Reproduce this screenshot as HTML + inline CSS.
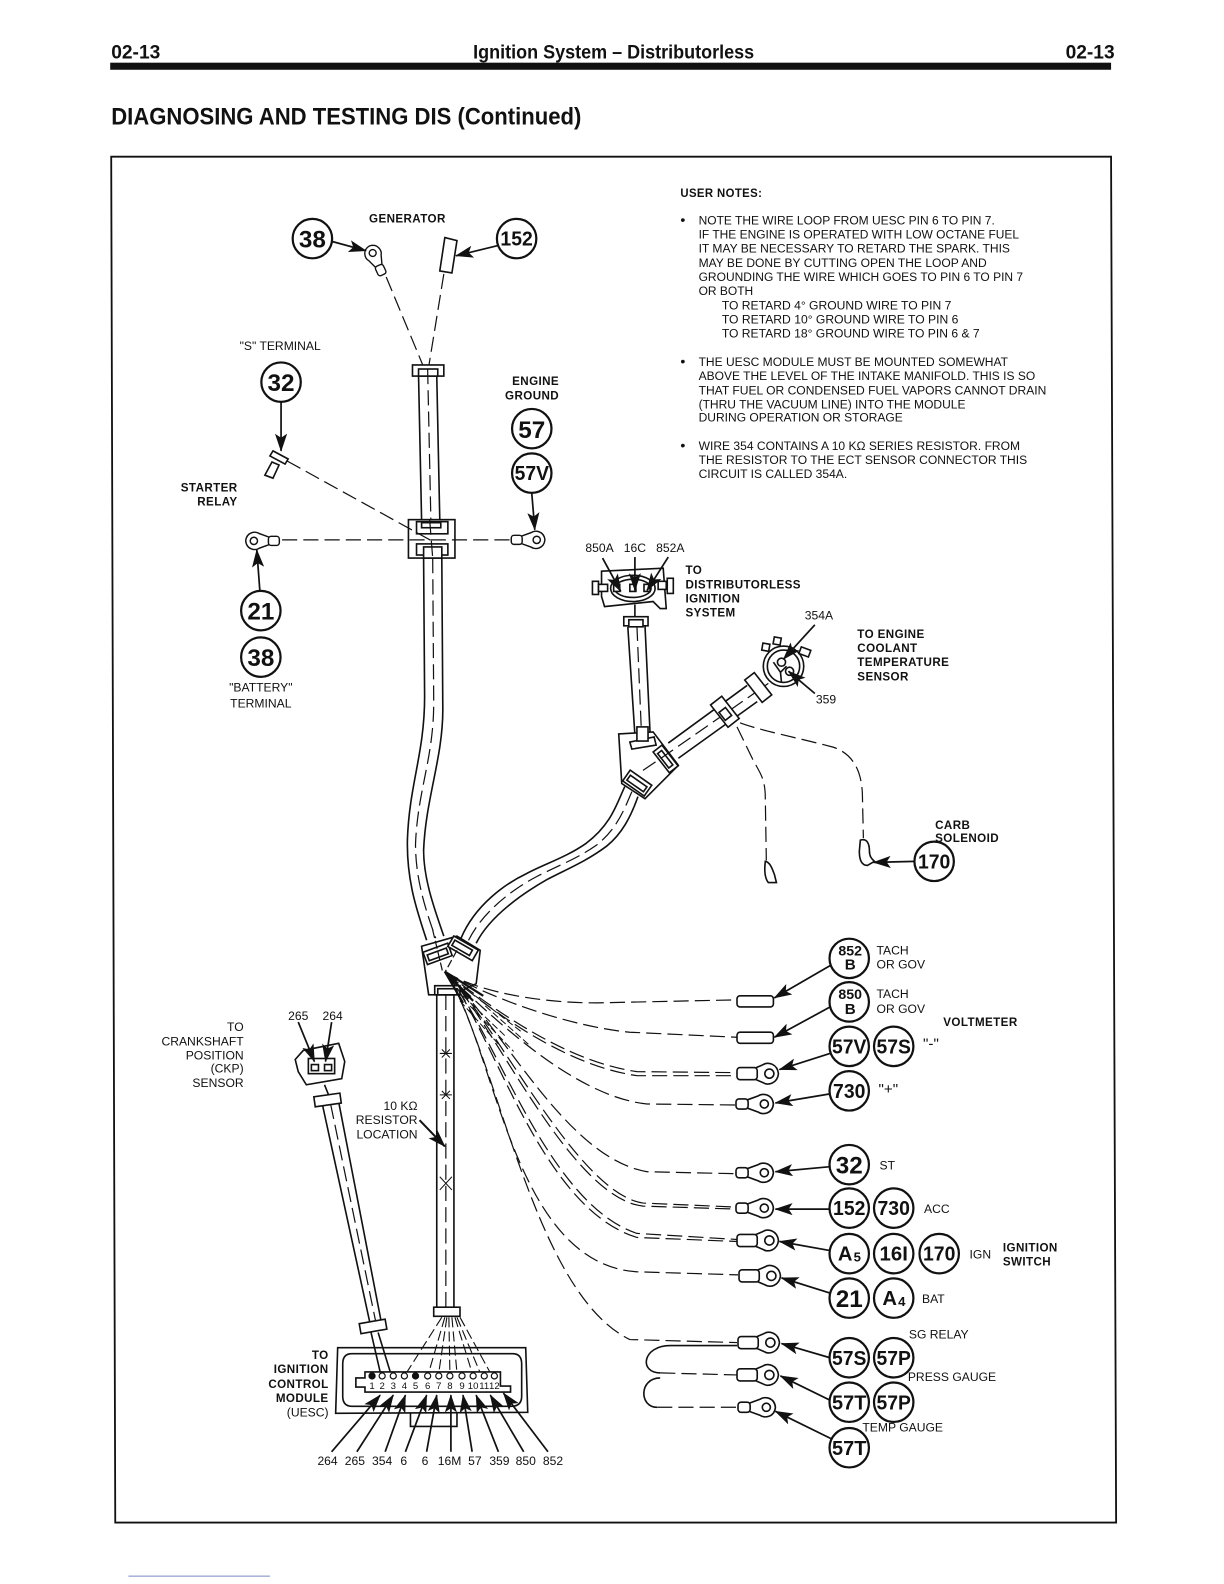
<!DOCTYPE html>
<html><head><meta charset="utf-8"><style>
html,body{margin:0;padding:0;background:#fff;width:1224px;height:1584px;overflow:hidden}
svg{display:block}
text{font-family:"Liberation Sans",sans-serif;fill:#111}
.n{font-size:12px}
.l{font-size:12px}
.b{font-size:11.5px;font-weight:bold;letter-spacing:.4px}
.c{font-size:24px;font-weight:bold;text-anchor:middle}
.c2{font-size:20px;font-weight:bold;text-anchor:middle}
.h{stroke:#111;fill:none;stroke-width:1.6}
.d{stroke:#111;fill:none;stroke-width:1.2;stroke-dasharray:15 6}
.o{stroke:#111;fill:#fff;stroke-width:1.6}
.ar{stroke:#111;fill:none;stroke-width:1.7;marker-end:url(#a)}
.ci{stroke:#111;fill:#fff;stroke-width:2.2}
.p{font-size:9.5px;text-anchor:middle}
</style></head><body>
<svg width="1224" height="1584" viewBox="0 0 1210.7 1566.8" xmlns="http://www.w3.org/2000/svg">
<defs>
<marker id="a" viewBox="0 0 18 12" refX="17" refY="6" markerWidth="18" markerHeight="12" markerUnits="userSpaceOnUse" orient="auto"><path d="M0,0 L18,6 L0,12 L4,6 Z" fill="#111"/></marker>
<g id="lug"><path d="M-16,-4 L-5,-8 C-1,-11 9,-10 10,0 C9,10 -1,11 -5,8 L-16,4 Z" class="o"/><circle cx="1" cy="0" r="4" class="o"/><rect x="-27" y="-5" width="12" height="10" rx="3" class="o"/></g>
<g id="lug2"><path d="M-12,-6 L-5,-9 C-1,-12 9,-10 10,0 C9,10 -1,12 -5,9 L-12,6 Z" class="o"/><circle cx="1" cy="0" r="4.5" class="o"/><rect x="-31" y="-6" width="20" height="12" rx="3" class="o"/></g>
</defs>

<!-- header -->
<text x="110" y="58" style="font-size:19px;font-weight:bold">02-13</text>
<text x="468" y="58" style="font-size:19px;font-weight:bold" textLength="278" lengthAdjust="spacingAndGlyphs">Ignition System – Distributorless</text>
<text x="1054" y="58" style="font-size:19px;font-weight:bold">02-13</text>
<rect x="109" y="62" width="990" height="7" fill="#111"/>
<text x="110" y="123" style="font-size:24px;font-weight:bold" textLength="465" lengthAdjust="spacingAndGlyphs">DIAGNOSING AND TESTING DIS (Continued)</text>
<path d="M110,155 L1099,155 L1104,1506 L114,1506 Z" fill="none" stroke="#111" stroke-width="1.8"/>
<line x1="127" y1="1559" x2="267" y2="1559" stroke="#7a86c8" stroke-width="1"/>

<!-- user notes -->
<text x="673" y="195" class="b" textLength="81" lengthAdjust="spacingAndGlyphs">USER NOTES:</text>
<text x="673" y="222" style="font-size:14px">•</text>
<text x="691" y="222" class="n" textLength="293" lengthAdjust="spacingAndGlyphs">NOTE THE WIRE LOOP FROM UESC PIN 6 TO PIN 7.</text>
<text x="691" y="236" class="n" textLength="317" lengthAdjust="spacingAndGlyphs">IF THE ENGINE IS OPERATED WITH LOW OCTANE FUEL</text>
<text x="691" y="250" class="n" textLength="308" lengthAdjust="spacingAndGlyphs">IT MAY BE NECESSARY TO RETARD THE SPARK. THIS</text>
<text x="691" y="264" class="n" textLength="285" lengthAdjust="spacingAndGlyphs">MAY BE DONE BY CUTTING OPEN THE LOOP AND</text>
<text x="691" y="278" class="n" textLength="321" lengthAdjust="spacingAndGlyphs">GROUNDING THE WIRE WHICH GOES TO PIN 6 TO PIN 7</text>
<text x="691" y="292" class="n" textLength="54" lengthAdjust="spacingAndGlyphs">OR BOTH</text>
<text x="714" y="306" class="n" textLength="227" lengthAdjust="spacingAndGlyphs">TO RETARD 4° GROUND WIRE TO PIN 7</text>
<text x="714" y="320" class="n" textLength="234" lengthAdjust="spacingAndGlyphs">TO RETARD 10° GROUND WIRE TO PIN 6</text>
<text x="714" y="334" class="n" textLength="255" lengthAdjust="spacingAndGlyphs">TO RETARD 18° GROUND WIRE TO PIN 6 &amp; 7</text>
<text x="673" y="362" style="font-size:14px">•</text>
<text x="691" y="362" class="n" textLength="306" lengthAdjust="spacingAndGlyphs">THE UESC MODULE MUST BE MOUNTED SOMEWHAT</text>
<text x="691" y="376" class="n" textLength="333" lengthAdjust="spacingAndGlyphs">ABOVE THE LEVEL OF THE INTAKE MANIFOLD. THIS IS SO</text>
<text x="691" y="390" class="n" textLength="344" lengthAdjust="spacingAndGlyphs">THAT FUEL OR CONDENSED FUEL VAPORS CANNOT DRAIN</text>
<text x="691" y="404" class="n" textLength="264" lengthAdjust="spacingAndGlyphs">(THRU THE VACUUM LINE) INTO THE MODULE</text>
<text x="691" y="417" class="n" textLength="202" lengthAdjust="spacingAndGlyphs">DURING OPERATION OR STORAGE</text>
<text x="673" y="445" style="font-size:14px">•</text>
<text x="691" y="445" class="n" textLength="318" lengthAdjust="spacingAndGlyphs">WIRE 354 CONTAINS A 10 KΩ SERIES RESISTOR. FROM</text>
<text x="691" y="459" class="n" textLength="325" lengthAdjust="spacingAndGlyphs">THE RESISTOR TO THE ECT SENSOR CONNECTOR THIS</text>
<text x="691" y="473" class="n" textLength="147" lengthAdjust="spacingAndGlyphs">CIRCUIT IS CALLED 354A.</text>

<!-- top wires -->
<path class="d" d="M382,274 L419,363"/>
<path class="d" d="M439,271 L424,363"/>
<use href="#lug" transform="translate(369,251) rotate(-115) scale(.85)"/>
<path class="o" d="M440,235 L452,238 L447,270 L435,268 Z"/>
<path class="ar" d="M329,239 L362,248"/>
<path class="ar" d="M492,243 L451,253"/>

<!-- main harness -->
<path class="h" d="M414,372 L417,514 M432,371 L435,514"/>
<rect x="408" y="361" width="31" height="11" class="o"/>
<rect x="414" y="365" width="19" height="7" class="o"/>
<path class="d" d="M423,365 L427,552"/>
<path class="h" d="M419,552 L420,689 C420,745 405,775 403,830 C402,870 412,900 422,930"/>
<path class="h" d="M437,552 L438,702 C438,750 421,790 419,841 C419,870 430,900 439,926"/>
<path class="d" d="M428,552 L429,695 C429,750 413,782 411,835 C411,870 421,900 431,928"/>

<!-- middle clamp -->
<rect x="404" y="514" width="46" height="38" class="o" stroke-width="2"/>
<rect x="412" y="516" width="31" height="12" class="o"/>
<rect x="417" y="517" width="19" height="5" class="o"/>
<rect x="412" y="538" width="31" height="11" class="o"/>
<rect x="419" y="541" width="18" height="11" class="o"/>
<path class="d" d="M425,514 L428,552"/>
<path class="d" d="M279,534 L509,534" stroke-width="1"/>
<path class="d" d="M284,456 L427,535"/>
<use href="#lug" transform="translate(252,535) rotate(180) scale(.9)"/>
<use href="#lug" transform="translate(530,534) scale(.9)"/>
<path class="ar" d="M278,398 L278,446"/>
<path class="o" d="M270,446 L285,454 L282,459 L267,451 Z"/>
<path class="o" d="M269,457 L276,460 L270,473 L262,470 Z" stroke-width="1"/>
<path class="ar" d="M526,488 L529,524"/>
<path class="ar" d="M257,584 L254,544"/>

<!-- lower main trunk -->
<path class="h" d="M432,984 L432,1293 M449,984 L449,1293"/>
<path class="d" d="M441,984 L441,1293"/>
<path d="M435,1042 L447,1042 M437,1038 L445,1046 M445,1038 L437,1046 M435,1083 L447,1083 M437,1079 L445,1087 M445,1079 L437,1087 M435,1164 L447,1177 M447,1164 L435,1177" stroke="#111" stroke-width="1" fill="none"/>

<!-- bottom junction -->
<path class="o" d="M417,936 L452,926 L475,940 L471,973 L448,984 L424,984 Z"/>
<rect x="430" y="975" width="25" height="9" class="o"/>
<rect x="433" y="978" width="19" height="6" class="o"/>
<path class="h" d="M618,778 C610,795 605,815 580,834 C560,848 540,854 521,864 C500,874 470,895 456,928"/>
<path class="h" d="M631,788 C624,808 615,825 600,837 C580,852 560,860 541,870 C520,882 485,905 471,933"/>
<path class="d" d="M625,783 C617,802 610,820 590,836 C570,850 550,857 531,867 C510,878 478,900 463,931"/>
<g transform="translate(433,944) rotate(-20)"><rect x="-13" y="-7" width="26" height="13" class="o"/><rect x="-10" y="-3" width="20" height="6" class="o"/></g>
<g transform="translate(458,938) rotate(30)"><rect x="-14" y="-6" width="28" height="12" class="o"/><rect x="-11" y="-3" width="20" height="6" class="o"/></g>
<path class="d" d="M428,920 L438,962 M452,940 L440,962" style="stroke-dasharray:8 3"/>

<!-- upper right junction -->
<path class="h" d="M621,620 L628,727 M638,619 L643,725"/>
<path class="d" d="M630,619 L636,761"/>
<rect x="617" y="610" width="24" height="9" class="o"/>
<rect x="622" y="613" width="14" height="7" class="o"/>
<path class="o" d="M612,726 L646,724 L671,757 L638,790 L615,775 Z"/>
<path class="o" d="M623,734 L647,729 L649,737 L625,741 Z"/>
<rect x="630" y="719" width="11" height="14" class="o" stroke-width="1.2"/>
<g transform="translate(630,775) rotate(35)"><rect x="-13" y="-7" width="26" height="13" class="o"/><rect x="-10" y="-3" width="20" height="6" class="o"/></g>
<g transform="translate(658,751) rotate(52)"><rect x="-13" y="-6" width="26" height="11" class="o"/><rect x="-9" y="-2.5" width="18" height="5" class="o"/></g>
<path class="h" d="M661,735 L739,678 M671,750 L749,694"/>
<path class="d" d="M636,762 L664,743 L760,676"/>
<g transform="translate(717,704) rotate(52)"><rect x="-14" y="-7" width="28" height="14" class="o"/><rect x="-3" y="-3" width="10" height="8" class="o" stroke-width="1"/></g>
<g transform="translate(750,680) rotate(52)"><rect x="-14" y="-6" width="28" height="12" class="o"/></g>

<!-- DIS connector -->
<path class="h" d="M595,565 L656,562 L659,602 L653,602 L646,595 L598,600 L595,590 Z" stroke-width="1.4"/>
<ellipse cx="626" cy="582" rx="22" ry="13" class="h"/>
<ellipse cx="626" cy="582" rx="18" ry="9" class="h" stroke-width="1"/>
<rect x="607" y="578" width="6" height="7" class="o" stroke-width="1"/><rect x="623" y="578" width="6" height="7" class="o" stroke-width="1"/><rect x="637" y="578" width="6" height="7" class="o" stroke-width="1"/>
<rect x="586" y="575" width="6" height="13" class="o"/><rect x="592" y="578" width="9" height="7" class="o"/>
<rect x="651" y="575" width="8" height="8" class="o"/><rect x="660" y="572" width="6" height="15" class="o"/>
<line x1="628" y1="598" x2="628" y2="610" class="h"/>
<path class="ar" d="M596,552 L614,585"/>
<path class="ar" d="M628,551 L628,584"/>
<path class="ar" d="M661,551 L640,584"/>

<!-- ECT sensor -->
<g transform="translate(775,659)">
<circle r="20" class="h"/><circle r="16" class="h" stroke-width="1"/>
<circle cx="-2" cy="-4" r="4" class="o" stroke-width="1"/><circle cx="6" cy="5" r="4" class="o" stroke-width="1"/>
<path d="M-10,-4 L-3,6 L-2,16 M-3,6 L3,0" class="h" stroke-width="1"/>
<rect x="-24" y="-19" width="7" height="7" class="o" transform="rotate(10)"/>
<rect x="-14" y="-27" width="7" height="7" class="o" transform="rotate(10)"/>
<rect x="10" y="-24" width="10" height="7" class="o" transform="rotate(20)"/>
</g>
<path class="ar" d="M806,618 L775,652"/>
<path class="ar" d="M806,686 L780,664"/>

<!-- carb wires -->
<path class="d" d="M729,719 L745,752 C752,765 757,770 757,790 L758,851"/>
<path class="d" d="M732,715 C750,722 790,730 824,739 C842,745 852,760 853,785 L854,829"/>
<path class="o" d="M757,852 C762,853 764,860 766,865 L768,873 L760,873 C756,868 756,860 757,852 Z"/>
<path class="o" d="M851,831 C858,829 860,835 860,842 C860,848 863,850 865,852 L858,856 C852,856 850,850 850,842 Z"/>
<path class="ar" d="M905,852 L864,853"/>

<!-- CKP connector -->
<path class="h" d="M292,1048 L300,1039 L335,1032 L341,1050 L338,1067 L303,1073 L295,1060 Z"/>
<rect x="305" y="1047" width="26" height="15" class="h" stroke-width="1.2"/>
<rect x="308" y="1053" width="7" height="6" class="o" stroke-width="1"/><rect x="321" y="1053" width="7" height="6" class="o" stroke-width="1"/>
<line x1="321" y1="1073" x2="325" y2="1083" class="h"/>
<path class="ar" d="M295,1011 L311,1050"/>
<path class="ar" d="M328,1011 L322,1050"/>
<path class="h" d="M319,1093 L366,1309 M335,1090 L377,1307"/>
<path class="d" d="M327,1092 L372,1309"/>
<g transform="translate(324,1088) rotate(-8)"><rect x="-13" y="-5" width="26" height="10" class="o"/></g>
<g transform="translate(369,1312) rotate(-10)"><rect x="-13" y="-5" width="26" height="10" class="o"/></g>
<path class="h" d="M367,1318 L376,1357 M374,1318 L386,1357"/>

<rect x="429" y="1293" width="26" height="9" class="o"/>
<path d="M437,1303 L402,1358 M440,1303 L424,1358 M442,1303 L434,1358 M444,1303 L445,1358 M447,1303 L452,1358 M450,1303 L467,1358 M452,1303 L475,1358 M455,1303 L485,1358" stroke="#111" fill="none" stroke-width="1.1" stroke-dasharray="10 4"/>

<!-- Module -->
<path class="h" d="M334,1333 L520,1333 L522,1397 L332,1398 Z"/>
<path class="h" d="M348,1339 L507,1339 Q516,1339 516,1349 L516,1381 Q516,1391 506,1391 L348,1391 Q339,1391 339,1381 L339,1349 Q339,1339 348,1339 Z"/>
<path class="h" d="M406,1398 L406,1411 L452,1411 L452,1398"/>
<path class="o" d="M361,1357 L495,1357 L495,1371 L505,1371 L505,1377 L361,1377 L361,1372 L352,1372 L352,1363 L361,1363 Z"/>
<g stroke="#111" stroke-width="1.2" fill="#fff">
<circle cx="368" cy="1361" r="3" fill="#111"/><circle cx="378" cy="1361" r="3"/><circle cx="389" cy="1361" r="3"/><circle cx="400" cy="1361" r="3"/><circle cx="411" cy="1361" r="3" fill="#111"/><circle cx="423" cy="1361" r="3"/><circle cx="434" cy="1361" r="3"/><circle cx="445" cy="1361" r="3"/><circle cx="457" cy="1361" r="3"/><circle cx="468" cy="1361" r="3"/><circle cx="479" cy="1361" r="3"/><circle cx="489" cy="1361" r="3"/>
</g>
<text x="368" y="1374" class="p">1</text><text x="378" y="1374" class="p">2</text><text x="389" y="1374" class="p">3</text><text x="400" y="1374" class="p">4</text><text x="411" y="1374" class="p">5</text><text x="423" y="1374" class="p">6</text><text x="434" y="1374" class="p">7</text><text x="445" y="1374" class="p">8</text><text x="457" y="1374" class="p">9</text><text x="468" y="1374" class="p">10</text><text x="479" y="1374" class="p">11</text><text x="489" y="1374" class="p">12</text>
<path class="ar" d="M328,1436 L376,1380"/>
<path class="ar" d="M353,1436 L389,1380"/>
<path class="ar" d="M381,1436 L401,1380"/>
<path class="ar" d="M401,1436 L422,1380"/>
<path class="ar" d="M422,1436 L432,1380"/>
<path class="ar" d="M446,1436 L446,1380"/>
<path class="ar" d="M467,1436 L458,1380"/>
<path class="ar" d="M493,1436 L471,1380"/>
<path class="ar" d="M518,1436 L485,1380"/>
<path class="ar" d="M542,1436 L498,1378"/>
<text x="314" y="1449" class="l">264</text><text x="341" y="1449" class="l">265</text><text x="368" y="1449" class="l">354</text><text x="396" y="1449" class="l">6</text><text x="417" y="1449" class="l">6</text><text x="433" y="1449" class="l">16M</text><text x="463" y="1449" class="l">57</text><text x="484" y="1449" class="l">359</text><text x="510" y="1449" class="l">850</text><text x="537" y="1449" class="l">852</text>

<!-- fan wires -->
<path d="M440,961 L468,990 M440,961 L478,985 M440,961 L458,992" stroke="#111" stroke-width="2.2" fill="none"/>
<path d="M458,985 L500,1025 M470,985 L515,1020 M455,990 L495,1035 M465,995 L508,1040 M480,995 L525,1035" stroke="#111" stroke-width="1" stroke-dasharray="7 3" fill="none"/>
<path class="d" d="M440,961 C470,980 530,992 590,992 L729,989"/>
<path class="d" d="M440,961 C480,985 560,1015 623,1021 L729,1026"/>
<path class="d" d="M440,961 C490,1000 560,1050 630,1060 L729,1061"/>
<path class="d" d="M442,963 C490,1003 560,1054 630,1064 L729,1064"/>
<path class="d" d="M440,961 C490,1010 570,1085 640,1092 L729,1093"/>
<path class="d" d="M440,961 C500,1020 560,1145 640,1159 L729,1161"/>
<path class="d" d="M440,961 C490,1010 570,1180 636,1190 L729,1194"/>
<path class="d" d="M442,963 C490,1015 565,1185 636,1193 L729,1196"/>
<path class="d" d="M440,961 C490,1020 540,1190 630,1220 L729,1226"/>
<path class="d" d="M442,963 C490,1025 535,1195 630,1224 L729,1228"/>
<path class="d" d="M440,961 C490,1030 505,1250 630,1258 L730,1261"/>
<path class="d" d="M445,968 C495,1060 530,1280 623,1325 L729,1328"/>
<path class="h" d="M729,1331 L663,1331 C635,1331 632,1358 653,1358 M653,1363 C632,1363 632,1392 650,1392" stroke-width="1.2"/>
<path class="d" d="M653,1358 L729,1360 M650,1392 L730,1392"/>

<!-- terminals -->
<rect x="729" y="985" width="36" height="11" rx="3" class="o"/>
<rect x="729" y="1021" width="36" height="11" rx="3" class="o"/>
<use href="#lug2" transform="translate(760,1062)"/>
<use href="#lug" transform="translate(755,1092)"/>
<use href="#lug" transform="translate(755,1160)"/>
<use href="#lug" transform="translate(755,1195)"/>
<use href="#lug2" transform="translate(760,1227)"/>
<use href="#lug2" transform="translate(762,1262)"/>
<use href="#lug2" transform="translate(761,1328)"/>
<use href="#lug2" transform="translate(760,1360)"/>
<use href="#lug" transform="translate(757,1392)"/>
<path class="ar" d="M823,954 L766,987"/>
<path class="ar" d="M823,995 L766,1026"/>
<path class="ar" d="M821,1042 L771,1058"/>
<path class="ar" d="M821,1082 L767,1091"/>
<path class="ar" d="M821,1154 L767,1159"/>
<path class="ar" d="M821,1196 L767,1196"/>
<path class="ar" d="M821,1237 L771,1228"/>
<path class="ar" d="M821,1279 L773,1264"/>
<path class="ar" d="M821,1343 L773,1329"/>
<path class="ar" d="M821,1385 L772,1361"/>
<path class="ar" d="M824,1424 L767,1396"/>
<path class="ar" d="M415,1108 L440,1134" style="stroke-width:2"/>

<!-- circles -->
<circle cx="309" cy="236" r="19.5" class="ci"/><text x="309" y="245" class="c">38</text>
<circle cx="511" cy="236" r="19.5" class="ci"/><text x="511" y="243" class="c2" textLength="32" lengthAdjust="spacingAndGlyphs">152</text>
<circle cx="278" cy="378" r="19.5" class="ci"/><text x="278" y="387" class="c">32</text>
<circle cx="526" cy="424" r="19.5" class="ci"/><text x="526" y="433" class="c">57</text>
<circle cx="526" cy="468" r="19.5" class="ci"/><text x="526" y="475" class="c2" textLength="34" lengthAdjust="spacingAndGlyphs">57V</text>
<circle cx="258" cy="604" r="19.5" class="ci"/><text x="258" y="613" class="c">21</text>
<circle cx="258" cy="650" r="19.5" class="ci"/><text x="258" y="659" class="c">38</text>
<circle cx="924" cy="852" r="19.5" class="ci"/><text x="924" y="859" class="c2" textLength="32" lengthAdjust="spacingAndGlyphs">170</text>
<circle cx="840" cy="948" r="19.5" class="ci"/><text x="841" y="945" style="font-size:14px;font-weight:bold;text-anchor:middle">852</text><text x="841" y="959" style="font-size:15px;font-weight:bold;text-anchor:middle">B</text>
<circle cx="840" cy="991" r="19.5" class="ci"/><text x="841" y="988" style="font-size:14px;font-weight:bold;text-anchor:middle">850</text><text x="841" y="1003" style="font-size:15px;font-weight:bold;text-anchor:middle">B</text>
<circle cx="840" cy="1035" r="19.5" class="ci"/><text x="840" y="1042" class="c2" textLength="34" lengthAdjust="spacingAndGlyphs">57V</text>
<circle cx="884" cy="1035" r="19.5" class="ci"/><text x="884" y="1042" class="c2" textLength="34" lengthAdjust="spacingAndGlyphs">57S</text>
<circle cx="840" cy="1079" r="19.5" class="ci"/><text x="840" y="1086" class="c2" textLength="32" lengthAdjust="spacingAndGlyphs">730</text>
<circle cx="840" cy="1152" r="19.5" class="ci"/><text x="840" y="1161" class="c">32</text>
<circle cx="840" cy="1195" r="19.5" class="ci"/><text x="840" y="1202" class="c2" textLength="32" lengthAdjust="spacingAndGlyphs">152</text>
<circle cx="884" cy="1195" r="19.5" class="ci"/><text x="884" y="1202" class="c2" textLength="32" lengthAdjust="spacingAndGlyphs">730</text>
<circle cx="840" cy="1240" r="19.5" class="ci"/><text x="836" y="1247" class="c2">A</text><text x="848" y="1248" style="font-size:13px;font-weight:bold;text-anchor:middle">5</text>
<circle cx="884" cy="1240" r="19.5" class="ci"/><text x="884" y="1247" class="c2" textLength="28" lengthAdjust="spacingAndGlyphs">16I</text>
<circle cx="929" cy="1240" r="19.5" class="ci"/><text x="929" y="1247" class="c2" textLength="32" lengthAdjust="spacingAndGlyphs">170</text>
<circle cx="840" cy="1284" r="19.5" class="ci"/><text x="840" y="1293" class="c">21</text>
<circle cx="884" cy="1284" r="19.5" class="ci"/><text x="880" y="1291" class="c2">A</text><text x="892" y="1292" style="font-size:13px;font-weight:bold;text-anchor:middle">4</text>
<circle cx="840" cy="1343" r="19.5" class="ci"/><text x="840" y="1350" class="c2" textLength="34" lengthAdjust="spacingAndGlyphs">57S</text>
<circle cx="884" cy="1343" r="19.5" class="ci"/><text x="884" y="1350" class="c2" textLength="34" lengthAdjust="spacingAndGlyphs">57P</text>
<circle cx="840" cy="1387" r="19.5" class="ci"/><text x="840" y="1394" class="c2" textLength="34" lengthAdjust="spacingAndGlyphs">57T</text>
<circle cx="884" cy="1387" r="19.5" class="ci"/><text x="884" y="1394" class="c2" textLength="34" lengthAdjust="spacingAndGlyphs">57P</text>
<circle cx="840" cy="1432" r="19.5" class="ci"/><text x="840" y="1439" class="c2" textLength="34" lengthAdjust="spacingAndGlyphs">57T</text>

<!-- labels -->
<text x="365" y="220" class="b">GENERATOR</text>
<text x="237" y="346" class="l">"S" TERMINAL</text>
<text x="553" y="381" class="b" text-anchor="end">ENGINE</text>
<text x="553" y="395" class="b" text-anchor="end">GROUND</text>
<text x="235" y="486" class="b" text-anchor="end">STARTER</text>
<text x="235" y="500" class="b" text-anchor="end">RELAY</text>
<text x="258" y="684" class="l" text-anchor="middle">"BATTERY"</text>
<text x="258" y="700" class="l" text-anchor="middle">TERMINAL</text>
<text x="579" y="546" class="l">850A</text><text x="617" y="546" class="l">16C</text><text x="649" y="546" class="l">852A</text>
<text x="678" y="568" class="b">TO</text><text x="678" y="582" class="b">DISTRIBUTORLESS</text><text x="678" y="596" class="b">IGNITION</text><text x="678" y="610" class="b">SYSTEM</text>
<text x="796" y="613" class="l">354A</text>
<text x="848" y="631" class="b">TO ENGINE</text><text x="848" y="645" class="b">COOLANT</text><text x="848" y="659" class="b">TEMPERATURE</text><text x="848" y="673" class="b">SENSOR</text>
<text x="807" y="696" class="l">359</text>
<text x="925" y="820" class="b">CARB</text><text x="925" y="833" class="b">SOLENOID</text>
<text x="867" y="944" class="l">TACH</text><text x="867" y="958" class="l">OR GOV</text>
<text x="867" y="987" class="l">TACH</text><text x="867" y="1002" class="l">OR GOV</text>
<text x="933" y="1015" class="b">VOLTMETER</text>
<text x="913" y="1037" style="font-size:15px">"-"</text>
<text x="869" y="1082" style="font-size:15px">"+"</text>
<text x="870" y="1157" class="l">ST</text>
<text x="914" y="1200" class="l">ACC</text>
<text x="959" y="1245" class="l">IGN</text>
<text x="992" y="1238" class="b">IGNITION</text><text x="992" y="1252" class="b">SWITCH</text>
<text x="912" y="1289" class="l">BAT</text>
<text x="899" y="1324" class="l">SG RELAY</text>
<text x="898" y="1366" class="l">PRESS GAUGE</text>
<text x="853" y="1416" class="l">TEMP GAUGE</text>
<text x="241" y="1020" class="l" text-anchor="end">TO</text><text x="241" y="1034" class="l" text-anchor="end">CRANKSHAFT</text><text x="241" y="1048" class="l" text-anchor="end">POSITION</text><text x="241" y="1061" class="l" text-anchor="end">(CKP)</text><text x="241" y="1075" class="l" text-anchor="end">SENSOR</text>
<text x="285" y="1009" class="l">265</text><text x="319" y="1009" class="l">264</text>
<text x="413" y="1098" class="l" text-anchor="end">10 KΩ</text><text x="413" y="1112" class="l" text-anchor="end">RESISTOR</text><text x="413" y="1126" class="l" text-anchor="end">LOCATION</text>
<text x="325" y="1344" class="b" text-anchor="end">TO</text><text x="325" y="1358" class="b" text-anchor="end">IGNITION</text><text x="325" y="1373" class="b" text-anchor="end">CONTROL</text><text x="325" y="1387" class="b" text-anchor="end">MODULE</text><text x="325" y="1401" class="l" text-anchor="end">(UESC)</text>
</svg>
</body></html>
